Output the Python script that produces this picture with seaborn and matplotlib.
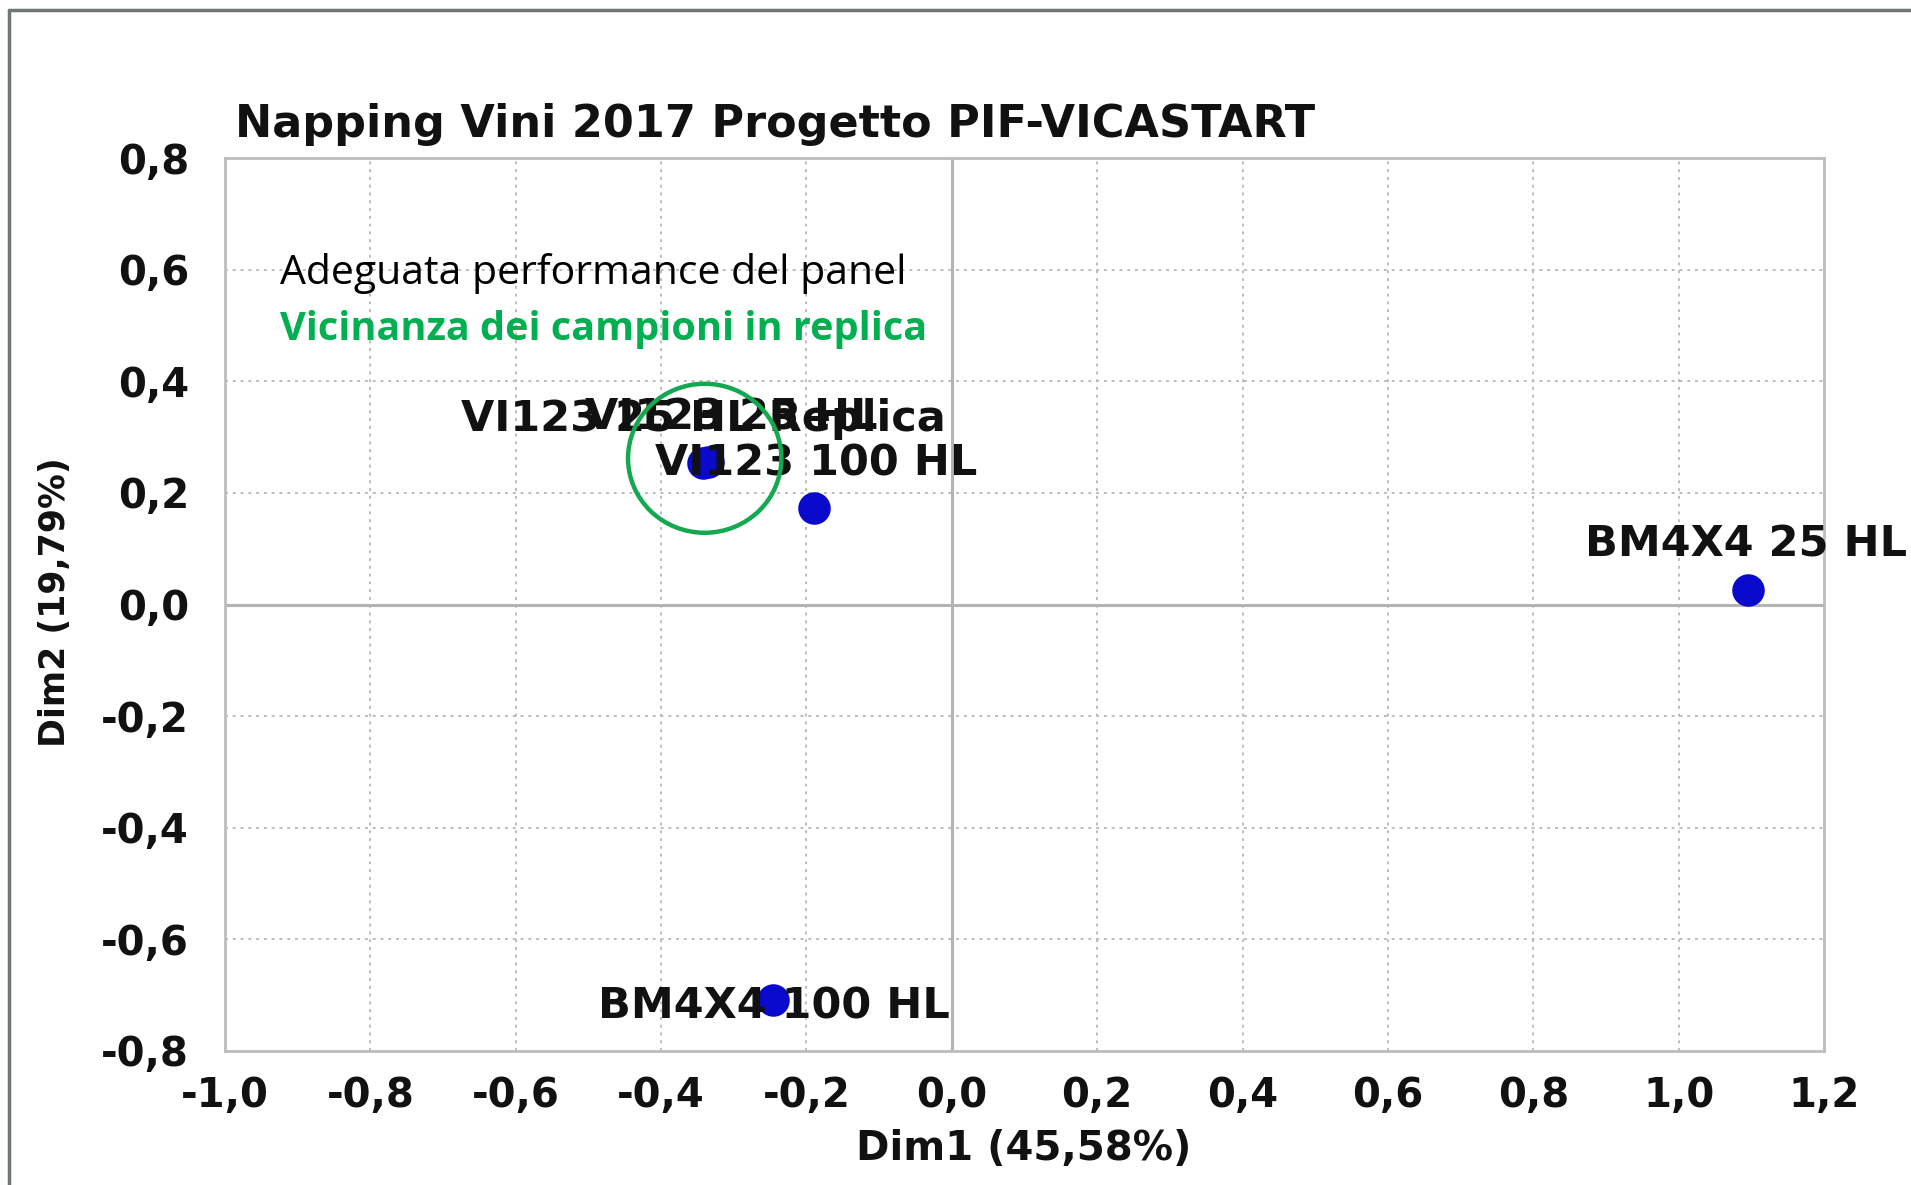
import numpy as np
import pandas as pd
import matplotlib
matplotlib.use("Agg")
import matplotlib.pyplot as plt
import seaborn as sns
from matplotlib.patches import Ellipse
from matplotlib.lines import Line2D
from matplotlib.ticker import FuncFormatter, MultipleLocator

# Data
names = ["VI123 25 HL", "VI123 25 HL Replica", "VI123 100 HL", "BM4X4 25 HL", "BM4X4 100 HL"]
dim1 = [-0.336, -0.342, -0.189, 1.095, -0.246]
dim2 = [0.256, 0.253, 0.173, 0.026, -0.708]
xlabel = "Dim1 (45,58%)"
ylabel = "Dim2 (19,79%)"
title = "Napping Vini 2017 Progetto PIF-VICASTART"
note1 = "Adeguata performance del panel"
note2 = "Vicinanza dei campioni in replica"

# label offsets in pixels (dx, dy)
label_offsets = [(24, 44), (0, 44), (2, 44), (-2, 45), (1, -7)]

data = pd.DataFrame({"name": names, "dim1": dim1, "dim2": dim2})

sns.set_theme(style="white")
plt.rcParams["font.family"] = ["DejaVu Sans"]

fig = plt.figure(figsize=(19.11, 11.85), dpi=100)
ax = fig.add_axes([225 / 1911, 1 - 1051 / 1185, (1824 - 225) / 1911, (1051 - 158) / 1185])

ax.set_xlim(-1.0, 1.2)
ax.set_ylim(-0.8, 0.8)
ax.xaxis.set_major_locator(MultipleLocator(0.2))
ax.yaxis.set_major_locator(MultipleLocator(0.2))
fmt = FuncFormatter(lambda v, p: f"{v:.1f}".replace(".", ",").replace("-0,0", "0,0"))
ax.xaxis.set_major_formatter(fmt)
ax.yaxis.set_major_formatter(fmt)

ax.grid(True, color="#bcbcbc", linestyle=(0, (1.5, 2.5)), linewidth=1.4)
ax.axhline(0, color="#b4b4b4", linewidth=2.2, zorder=1)
ax.axvline(0, color="#b4b4b4", linewidth=2.2, zorder=1)
for sp in ax.spines.values():
    sp.set_color("#bdbdbd")
    sp.set_linewidth(2)

sns.scatterplot(data=data, x="dim1", y="dim2", ax=ax, color="#0a0acd",
                edgecolor="#0a0acd", s=470, zorder=3, legend=False)

for (n, x, y), (dx, dy) in zip(zip(names, dim1, dim2), label_offsets):
    ax.annotate(n, (x, y), xytext=(dx, dy), textcoords="offset pixels",
                ha="center", va="center", fontsize=31, fontweight="bold",
                color="#111111", zorder=4)

ax.add_patch(Ellipse((-0.340, 0.262), 0.211, 0.267, fill=False,
                     edgecolor="#14a850", linewidth=3.2, zorder=5))

ax.tick_params(axis="both", which="both", length=0, labelsize=29, colors="#111111")
ax.tick_params(axis="y", pad=26)
ax.tick_params(axis="x", pad=18)
for lab in ax.get_xticklabels() + ax.get_yticklabels():
    lab.set_fontweight("bold")

ax.set_xlabel("")
ax.set_ylabel("")
fig.text(1024 / 1911, 1 - 1149 / 1185, xlabel, ha="center", va="center",
         fontsize=29, fontweight="bold", color="#111111")
fig.text(55 / 1911, 1 - 602 / 1185, ylabel, ha="center", va="center",
         rotation=90, fontsize=25, fontweight="bold", color="#111111")
fig.text(235 / 1911, 1 - 124 / 1185, title, ha="left", va="center",
         fontsize=32, fontweight="bold", color="#111111")

fig.text(280 / 1911, 1 - 274 / 1185, note1, ha="left", va="center",
         fontsize=29.5, family=["Open Sans", "DejaVu Sans"], color="black")
fig.text(280 / 1911, 1 - 329 / 1185, note2, ha="left", va="center",
         fontsize=28.5, fontweight="bold", family=["Open Sans", "DejaVu Sans"], color="#00b050")

# outer frame (top and left edges)
fig.add_artist(Line2D([9 / 1911, 1], [1 - 10 / 1185, 1 - 10 / 1185], color="#6e7676", linewidth=2.5))
fig.add_artist(Line2D([9 / 1911, 9 / 1911], [0, 1 - 10 / 1185], color="#6e7676", linewidth=2.5))

fig.savefig("out.png", dpi=100, facecolor="white")
